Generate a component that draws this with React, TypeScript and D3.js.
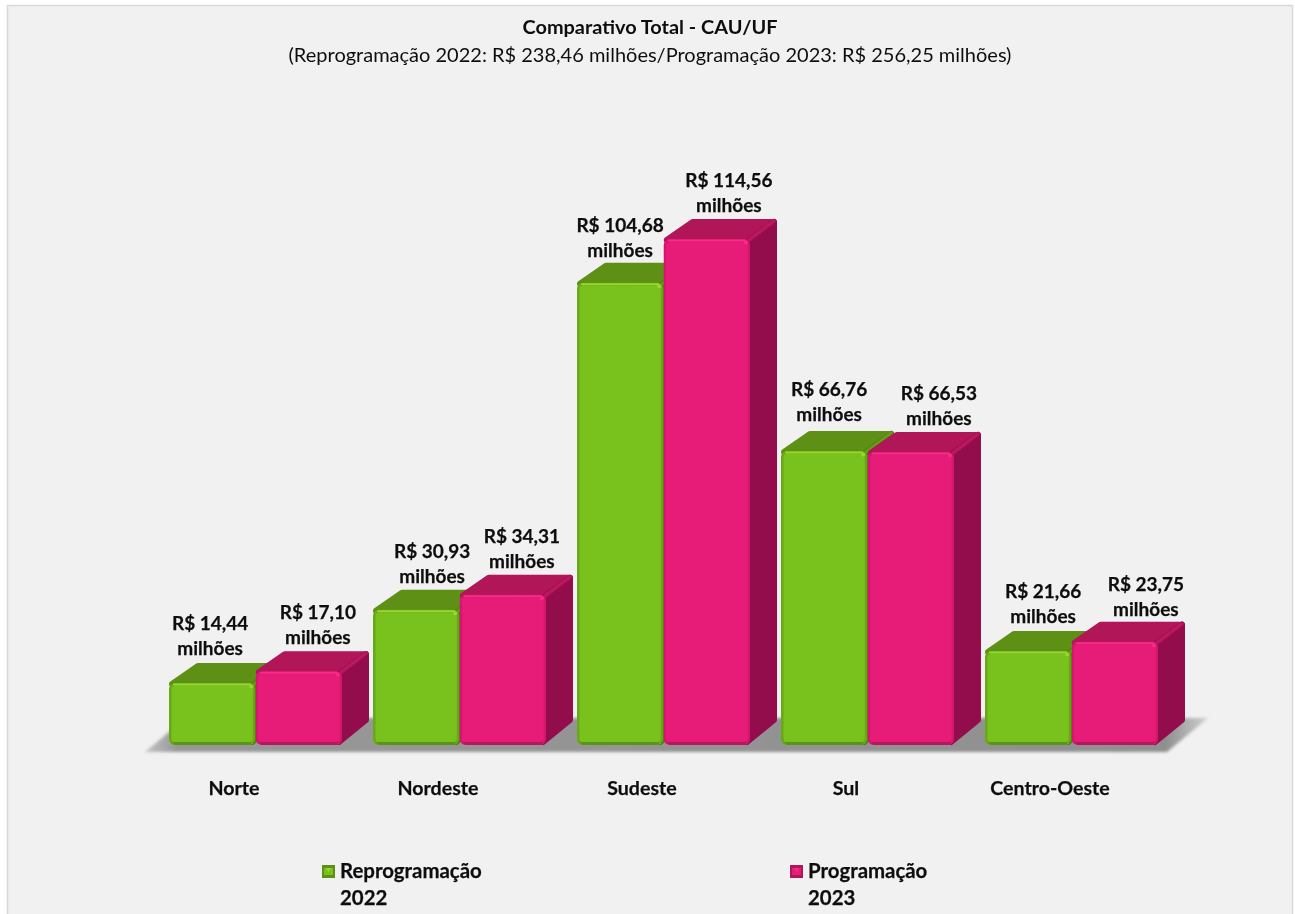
import React from "react";
import * as d3 from "d3";

const categories = ["Norte", "Nordeste", "Sudeste", "Sul", "Centro-Oeste"];
const series = ["Reprogramação 2022", "Programação 2023"];
const reprogramacao = [14.44, 30.93, 104.68, 66.76, 21.66];
const programacao = [17.1, 34.31, 114.56, 66.53, 23.75];
const labelNudgeGreen = [-2, 16, 0, 5, 15];
const labelNudgePink = [19, 19, 22, 28, 31];
const labelLiftGreen = [1, 0, -1, 3, 1];
const labelLiftPink = [0, 0, 0, 0, -1];

const W = 1295;
const H = 914;
const FONT = "Lato, 'Open Sans', sans-serif";
const INK = "#111";
const DX = 27;
const DY = 20;
const FLOOR = 745;

const x0 = d3.scaleBand<string>().domain(categories).range([169, 1158]).paddingInner(31 / 204).paddingOuter(0);
const x1 = d3.scaleBand<string>().domain(series).range([0, x0.bandwidth()]).paddingInner(0.006);
const y = d3.scaleLinear().domain([0, 100]).range([747, 303.5]);

const palettes = [
  { main: "#79c11f", top: "#5e9014", side: "#4f7d10", edge: "#66a816", bottom: "#5a9412", glow: "#98d92e", id: "g" },
  { main: "#e61c78", top: "#b01459", side: "#93114e", edge: "#d5186e", bottom: "#b5125c", glow: "#fa2a88", id: "m" },
];

function Bar({ x, top, w, p }: { x: number; top: number; w: number; p: (typeof palettes)[number] }) {
  const inset = 3;
  const topPath = d3.path();
  topPath.moveTo(x + inset, top + 1);
  topPath.lineTo(x + DX + inset - 1, top - DY + inset);
  topPath.lineTo(x + w + DX - inset, top - DY + inset);
  topPath.lineTo(x + w - inset, top + 2);
  topPath.closePath();
  const sidePath = d3.path();
  sidePath.moveTo(x + w - 3, top + 3);
  sidePath.lineTo(x + w + DX - inset, top - DY + inset);
  sidePath.lineTo(x + w + DX - inset, FLOOR - DY - 5);
  sidePath.lineTo(x + w - 3, FLOOR - 3);
  sidePath.closePath();
  return (
    <g>
      <path d={topPath.toString()} fill={p.top} stroke={p.top} strokeWidth={6} strokeLinejoin="round" />
      <path d={sidePath.toString()} fill={p.side} stroke={p.side} strokeWidth={6} strokeLinejoin="round" />
      <line x1={x + w - 1} y1={top + 1} x2={x + w + DX - 3} y2={top - DY + 2} stroke={p.top} strokeWidth={4} strokeLinecap="round" />
      <line x1={x + w - 1} y1={top + 1} x2={x + w + DX - 3} y2={top - DY + 2} stroke={p.main} strokeWidth={1.5} opacity={0.35} strokeLinecap="round" />
      <rect x={x} y={top} width={w} height={FLOOR - top} rx={6} fill={p.edge} />
      <rect x={x + 4} y={FLOOR - 8} width={w - 8} height={8} rx={3} fill={p.bottom} />
      <rect x={x + 2.5} y={top + 3} width={w - 5} height={FLOOR - top - 6} rx={3} fill={p.main} />
      <line x1={x + 5} y1={top + 1.5} x2={x + w - 5} y2={top + 1.5} stroke={p.glow} strokeWidth={2} strokeLinecap="round" />
      <circle cx={x + w - 4} cy={top + 3.5} r={2} fill={p.glow} />
    </g>
  );
}

function Label({ cx, yy, value }: { cx: number; yy: number; value: number }) {
  const f = d3.format(".2f")(value).replace(".", ",");
  return (
    <text textAnchor="middle" fontFamily={FONT} fontWeight={700} fontSize={19} fill={INK} stroke={INK} strokeWidth={0.25}>
      <tspan x={cx} y={yy - 25}>{`R$ ${f}`}</tspan>
      <tspan x={cx} y={yy}>milhões</tspan>
    </text>
  );
}

function Swatch({ x, yy, p }: { x: number; yy: number; p: (typeof palettes)[number] }) {
  return (
    <g>
      <rect x={x} y={yy} width={13} height={13} fill={p.top} />
      <path d={`M${x + 2},${yy + 3}L${x + 11},${yy + 3}L${x + 11},${yy + 10}L${x + 2},${yy + 10}Z`} fill={p.main} />
      <path d={`M${x + 4},${yy + 3}L${x + 9},${yy + 3}L${x + 6.5},${yy + 7}Z`} fill={p.glow} />
    </g>
  );
}

export default function App() {
  const bw = x1.bandwidth();
  return (
    <svg width={W} height={H} viewBox={`0 0 ${W} ${H}`} style={{ position: "fixed", left: 0, top: 0, background: "#fff" }}>
      <defs>
        <filter id="soft" x="-2%" y="-2%" width="104%" height="104%">
          <feGaussianBlur stdDeviation="0.5" />
        </filter>
        <filter id="softer" x="-5%" y="-30%" width="110%" height="160%">
          <feGaussianBlur stdDeviation="1.4" />
        </filter>
        <linearGradient id="floor" x1="0" x2="1" y1="0" y2="0">
          <stop offset="0" stopColor="#c4c4c4" />
          <stop offset="0.03" stopColor="#979797" />
          <stop offset="0.96" stopColor="#8f8f8f" />
          <stop offset="1" stopColor="#d0d0d0" />
        </linearGradient>
      </defs>
      <rect x={7.5} y={5.5} width={1285} height={910} fill="#f1f1f1" stroke="#d9d9d9" strokeWidth={1.5} />
      <g filter="url(#soft)">
        <path d="M145,752L1167,752L1208,718L186,718Z" fill="url(#floor)" filter="url(#softer)" />
        {categories.map((c, i) => {
          const gx = x0(c)!;
          return (
            <g key={c}>
              <Bar x={gx + x1(series[0])!} top={y(reprogramacao[i])} w={bw} p={palettes[0]} />
              <Bar x={gx + x1(series[1])!} top={y(programacao[i])} w={bw} p={palettes[1]} />
            </g>
          );
        })}
        {categories.map((c, i) => {
          const gx = x0(c)!;
          return (
            <g key={c}>
              <Label cx={gx + x1(series[0])! + bw / 2 + labelNudgeGreen[i]} yy={y(reprogramacao[i]) - 27 - labelLiftGreen[i]} value={reprogramacao[i]} />
              <Label cx={gx + x1(series[1])! + bw / 2 + labelNudgePink[i]} yy={y(programacao[i]) - 27 - labelLiftPink[i]} value={programacao[i]} />
              <text x={gx + x0.bandwidth() / 2 - 21.5} y={795} textAnchor="middle" fontFamily={FONT} fontWeight={700} fontSize={19.6} fill={INK} stroke={INK} strokeWidth={0.25}>{c}</text>
            </g>
          );
        })}
        <text x={650} y={34} textAnchor="middle" fontFamily={FONT} fontWeight={700} fontSize={19.9} fill={INK}>Comparativo Total - CAU/UF</text>
        <text x={650} y={62} textAnchor="middle" fontFamily={FONT} fontSize={20} fill={INK}>(Reprogramação 2022: R$ 238,46 milhões/Programação 2023: R$ 256,25 milhões)</text>
        <Swatch x={322} yy={865} p={palettes[0]} />
        <text fontFamily={FONT} fontWeight={700} fontSize={20.4} fill={INK} stroke={INK} strokeWidth={0.25}>
          <tspan x={340} y={878}>Reprogramação</tspan>
          <tspan x={340} y={905}>2022</tspan>
        </text>
        <Swatch x={790} yy={865} p={palettes[1]} />
        <text fontFamily={FONT} fontWeight={700} fontSize={20.4} fill={INK} stroke={INK} strokeWidth={0.25}>
          <tspan x={808} y={878}>Programação</tspan>
          <tspan x={808} y={905}>2023</tspan>
        </text>
      </g>
    </svg>
  );
}
